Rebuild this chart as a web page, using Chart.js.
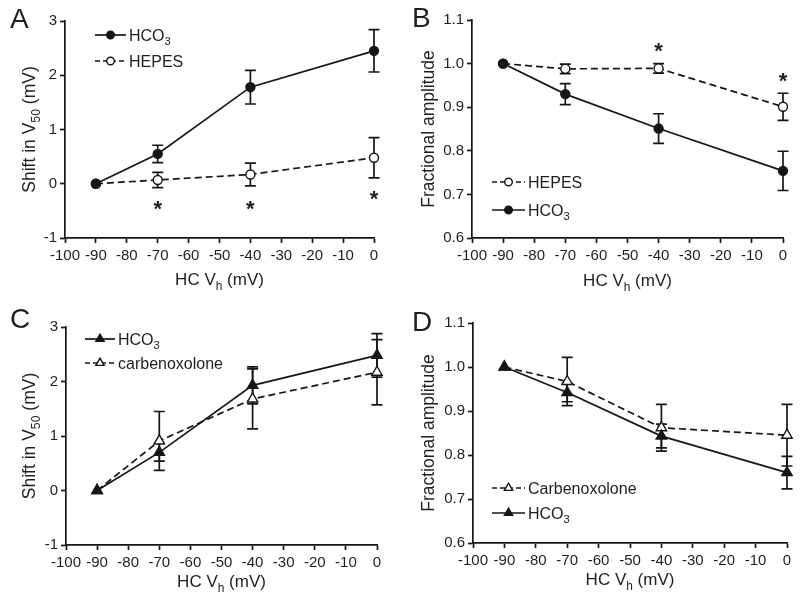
<!DOCTYPE html>
<html>
<head>
<meta charset="utf-8">
<script src="https://cdn.jsdelivr.net/npm/chart.js@4.4.0/dist/chart.umd.min.js"></script>
<style>
  html, body { margin: 0; padding: 0; background: #fff; }
  #wrap { position: relative; width: 800px; height: 605px; }
  canvas { position: absolute; }
</style>
</head>
<body>
<div id="wrap">
  <canvas id="cA" width="400" height="300" style="left:0;top:0"></canvas>
  <canvas id="cB" width="400" height="300" style="left:400px;top:0"></canvas>
  <canvas id="cC" width="400" height="305" style="left:0;top:300px"></canvas>
  <canvas id="cD" width="400" height="305" style="left:400px;top:300px"></canvas>
</div>
<script>
// holding potential of the HC (mV)
const vh = [-90, -70, -40, 0];

// A: shift in V50 (mV)
const shiftHco3 = [0, 0.55, 1.78, 2.45];
const shiftHco3Err = [0, 0.16, 0.31, 0.39];
const shiftHepes = [0, 0.07, 0.17, 0.48];
const shiftHepesErr = [0, 0.14, 0.21, 0.37];
const shiftStarX = [-70, -40, 0];
const shiftStarY = [-0.35, -0.35, -0.17];

// B: fractional amplitude
const ampHco3 = [1.0, 0.930, 0.851, 0.754];
const ampHco3Err = [0, 0.024, 0.034, 0.045];
const ampHepes = [1.0, 0.988, 0.989, 0.901];
const ampHepesErr = [0, 0.011, 0.011, 0.031];
const ampStarX = [-40, 0];
const ampStarY = [1.043, 0.974];

// C: shift in V50 (mV), carbenoxolone
const shiftHco3C = [0, 0.70, 1.93, 2.48];
const shiftHco3CErr = [0, 0.16, 0.34, 0.40];
const shiftCbx = [0, 0.91, 1.68, 2.17];
const shiftCbxErr = [0, 0.54, 0.55, 0.60];

// D: fractional amplitude, carbenoxolone
const ampHco3D = [1.0, 0.942, 0.843, 0.760];
const ampHco3DErr = [0, 0.021, 0.027, 0.037];
const ampCbx = [1.0, 0.967, 0.862, 0.845];
const ampCbxErr = [0, 0.055, 0.053, 0.070];

// axis ticks / labels
const xTicksStep = 10;
const shiftTicks = [-1, 3, 1];
const ampTicks = [0.6, 1.1, 0.1];
const xTitle = ['HC V', 'h', ' (mV)'];
const shiftTitle = ['Shift in V', '50', ' (mV)'];
const ampTitle = ['Fractional amplitude'];
const nameHco3 = ['HCO', '3'];

const INK = '#161616';
const TXT = '#1e1e1e';
const LW = 1.7;
const FONT = "'Liberation Sans', Arial, Helvetica, sans-serif";
Chart.defaults.font.family = FONT;
Chart.defaults.color = TXT;

// text with alternating normal / subscript parts
function rich(ctx, parts, x, y, fs, center) {
  const sub = fs * 0.7;
  let w = 0;
  parts.forEach((t, i) => {
    ctx.font = (i % 2 ? sub : fs) + 'px ' + FONT;
    w += ctx.measureText(t).width;
  });
  let cx = center ? x - w / 2 : x;
  ctx.textAlign = 'left';
  ctx.textBaseline = 'alphabetic';
  parts.forEach((t, i) => {
    ctx.font = (i % 2 ? sub : fs) + 'px ' + FONT;
    ctx.fillText(t, cx, i % 2 ? y + fs * 0.28 : y);
    cx += ctx.measureText(t).width;
  });
}

function marker(ctx, shape, open, x, y, r) {
  ctx.beginPath();
  if (shape === 'triangle') {
    ctx.moveTo(x, y - r);
    ctx.lineTo(x + r * 0.866, y + r * 0.5);
    ctx.lineTo(x - r * 0.866, y + r * 0.5);
    ctx.closePath();
  } else {
    ctx.arc(x, y, r, 0, Math.PI * 2);
  }
  ctx.fillStyle = open ? '#fff' : INK;
  ctx.fill();
  ctx.strokeStyle = INK;
  ctx.lineWidth = 1.4;
  ctx.stroke();
}

function makeDecor(p) {
  return {
    id: 'decor',
    beforeDatasetsDraw(chart) {
      const ctx = chart.ctx, xs = chart.scales.x, ys = chart.scales.y;
      ctx.save();
      ctx.strokeStyle = INK;
      ctx.lineWidth = LW;
      p.errs.forEach((err, di) => {
        chart.data.datasets[di].data.forEach((pt, i) => {
          if (!err[i]) return;
          const px = xs.getPixelForValue(pt.x);
          const hi = ys.getPixelForValue(pt.y + err[i]);
          const lo = ys.getPixelForValue(pt.y - err[i]);
          ctx.beginPath();
          ctx.moveTo(px, hi); ctx.lineTo(px, lo);
          ctx.moveTo(px - 5.5, hi); ctx.lineTo(px + 5.5, hi);
          ctx.moveTo(px - 5.5, lo); ctx.lineTo(px + 5.5, lo);
          ctx.stroke();
        });
      });
      ctx.restore();
    },
    afterDraw(chart) {
      const ctx = chart.ctx, a = chart.chartArea;
      const xs = chart.scales.x, ys = chart.scales.y;
      ctx.save();
      ctx.fillStyle = TXT;
      // panel letter
      ctx.font = '28px ' + FONT;
      ctx.textAlign = 'left';
      ctx.textBaseline = 'alphabetic';
      ctx.fillText(p.letter, p.letterX, p.letterY);
      // x title
      rich(ctx, xTitle, (a.left + a.right) / 2, a.bottom + p.xTitleOff, 17, true);
      // y title
      ctx.save();
      ctx.translate(p.yTitleX, (a.top + a.bottom) / 2);
      ctx.rotate(-Math.PI / 2);
      rich(ctx, p.yTitle, 0, 17.5 * 0.36, 17.5, true);
      ctx.restore();
      // stars
      ctx.font = 'bold 22px ' + FONT;
      ctx.textAlign = 'center';
      (p.starX || []).forEach((sx, i) => {
        ctx.fillText('*', xs.getPixelForValue(sx), ys.getPixelForValue(p.starY[i]) + 22 * 0.6);
      });
      // legend
      p.legend.forEach(e => {
        ctx.strokeStyle = INK;
        ctx.lineWidth = LW;
        ctx.setLineDash(e.dashed ? [5, 3] : []);
        ctx.beginPath();
        ctx.moveTo(p.legX0, e.y);
        ctx.lineTo(p.legX1, e.y);
        ctx.stroke();
        ctx.setLineDash([]);
        marker(ctx, e.shape, e.open, (p.legX0 + p.legX1) / 2, e.y, e.shape === 'triangle' ? 4.8 : 3.8);
        ctx.fillStyle = TXT;
        rich(ctx, e.name, p.legX1 + 3, e.y + 16 * 0.36, 16, false);
      });
      ctx.restore();
    }
  };
}

function series(ys, shape, open) {
  return {
    data: vh.map((x, i) => ({ x: x, y: ys[i] })),
    borderColor: INK,
    borderWidth: LW,
    borderDash: open ? [7, 4] : [],
    pointStyle: shape,
    pointRadius: shape === 'triangle' ? 6 : 4.5,
    pointBackgroundColor: open ? '#fff' : INK,
    pointBorderColor: INK,
    pointBorderWidth: 1.4,
    tension: 0,
    clip: false
  };
}

function gridOpts() {
  return { drawOnChartArea: false, drawTicks: true, tickLength: 5, tickWidth: LW, tickColor: INK };
}

function makePanel(p) {
  new Chart(document.getElementById(p.id), {
    type: 'line',
    data: { datasets: p.datasets },
    options: {
      responsive: false,
      animation: false,
      events: [],
      layout: { padding: p.pad },
      plugins: { legend: { display: false }, tooltip: { enabled: false } },
      scales: {
        x: {
          type: 'linear', min: -100, max: 0,
          afterFit: s => { s.height = p.xh; },
          ticks: { stepSize: xTicksStep, font: { size: 15 }, color: TXT, padding: 4, autoSkip: false, maxRotation: 0,
                   callback: v => String(v) },
          grid: gridOpts(),
          border: { color: INK, width: LW }
        },
        y: {
          type: 'linear', min: p.yt[0], max: p.yt[1],
          afterFit: s => { s.width = p.yw; },
          ticks: { stepSize: p.yt[2], font: { size: 15 }, color: TXT, padding: 3,
                   callback: v => p.dec ? v.toFixed(1) : String(v) },
          grid: gridOpts(),
          border: { color: INK, width: LW }
        }
      }
    },
    plugins: [makeDecor(p)]
  });
}

makePanel({
  id: 'cA', letter: 'A', letterX: 10, letterY: 28,
  pad: { left: 0, top: 21, right: 26, bottom: 0 }, yw: 65, xh: 62,
  yt: shiftTicks, dec: false, yTitle: shiftTitle, yTitleX: 29, xTitleOff: 47,
  datasets: [series(shiftHco3, 'circle', false), series(shiftHepes, 'circle', true)],
  errs: [shiftHco3Err, shiftHepesErr],
  starX: shiftStarX, starY: shiftStarY,
  legX0: 95, legX1: 126,
  legend: [
    { name: nameHco3, y: 35, shape: 'circle', open: false, dashed: false },
    { name: ['HEPES'], y: 61, shape: 'circle', open: true, dashed: true }
  ]
});

makePanel({
  id: 'cB', letter: 'B', letterX: 12, letterY: 27,
  pad: { left: 0, top: 20, right: 17, bottom: 0 }, yw: 72, xh: 62,
  yt: ampTicks, dec: true, yTitle: ampTitle, yTitleX: 28, xTitleOff: 48,
  datasets: [series(ampHco3, 'circle', false), series(ampHepes, 'circle', true)],
  errs: [ampHco3Err, ampHepesErr],
  starX: ampStarX, starY: ampStarY,
  legX0: 92, legX1: 125,
  legend: [
    { name: ['HEPES'], y: 182, shape: 'circle', open: true, dashed: true },
    { name: nameHco3, y: 210, shape: 'circle', open: false, dashed: false }
  ]
});

makePanel({
  id: 'cC', letter: 'C', letterX: 10, letterY: 28,
  pad: { left: 0, top: 27, right: 23, bottom: 0 }, yw: 66, xh: 60,
  yt: shiftTicks, dec: false, yTitle: shiftTitle, yTitleX: 29, xTitleOff: 42,
  datasets: [series(shiftHco3C, 'triangle', false), series(shiftCbx, 'triangle', true)],
  errs: [shiftHco3CErr, shiftCbxErr],
  legX0: 85, legX1: 115,
  legend: [
    { name: nameHco3, y: 39, shape: 'triangle', open: false, dashed: false },
    { name: ['carbenoxolone'], y: 63, shape: 'triangle', open: true, dashed: true }
  ]
});

makePanel({
  id: 'cD', letter: 'D', letterX: 12, letterY: 31,
  pad: { left: 0, top: 23, right: 13, bottom: 0 }, yw: 73, xh: 62,
  yt: ampTicks, dec: true, yTitle: ampTitle, yTitleX: 28, xTitleOff: 42,
  datasets: [series(ampHco3D, 'triangle', false), series(ampCbx, 'triangle', true)],
  errs: [ampHco3DErr, ampCbxErr],
  legX0: 92, legX1: 125,
  legend: [
    { name: ['Carbenoxolone'], y: 188, shape: 'triangle', open: true, dashed: true },
    { name: nameHco3, y: 213, shape: 'triangle', open: false, dashed: false }
  ]
});
</script>
</body>
</html>
